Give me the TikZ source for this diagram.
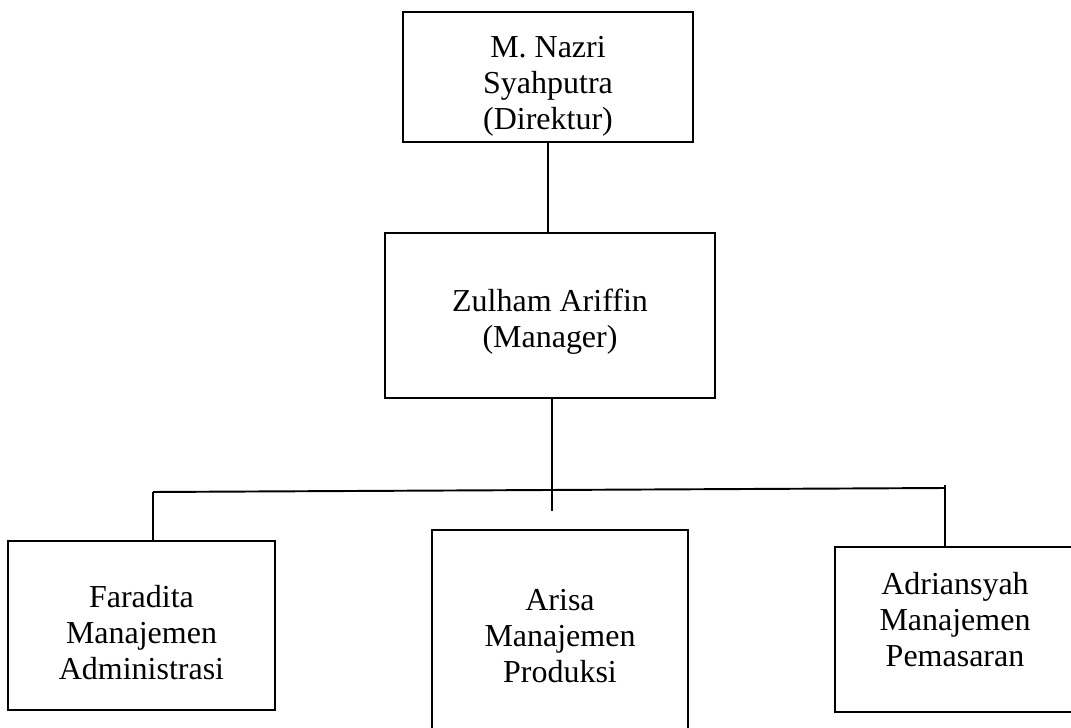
\documentclass[tikz,border=0pt]{standalone}
\usepackage{fontspec}
\setmainfont{Liberation Serif}
\usepackage{tikz}

\newcommand{\isi}[2][0pt]{\raisebox{\dimexpr-6.2pt-#1\relax}[0pt][0pt]{\begin{tabular}{@{}c@{}}#2\end{tabular}}}

\tikzset{
	jabatan/.style={draw, line width=1.1pt, inner sep=0pt, outer sep=0pt,
		font=\fontsize{18.2}{20.5}\selectfont}
}

\begin{document}
\begin{tikzpicture}[line width=1.1pt]
	
	\clip (0,0) rectangle (21.42,-14.56);
	
	\node[jabatan, minimum width=5.8cm, minimum height=2.6cm] (direktur) at (10.96,-1.54) {\isi[3.4pt]{M. Nazri\\Syahputra\\(Direktur)}};
	\node[jabatan, minimum width=6.6cm, minimum height=3.3cm] (manager) at (11.0,-6.31) {\isi[2pt]{Zulham Ariffin\\(Manager)}};
	
	\node[jabatan, minimum width=5.34cm, minimum height=3.38cm] (admin) at (2.83,-12.51) {\isi[4pt]{Faradita\\Manajemen\\Administrasi}};
	\node[jabatan, minimum width=5.12cm, minimum height=4.24cm] (produksi) at (11.2,-12.72) {\isi{Arisa\\Manajemen\\Produksi}};
	\node[jabatan, minimum width=4.8cm, minimum height=3.3cm] (pemasaran) at (19.1,-12.59) {\isi[-5.4pt]{Adriansyah\\Manajemen\\Pemasaran}};
	
	\coordinate (kiri) at (3.06,-9.84);
	\coordinate (kanan) at (18.9,-9.76);
	\coordinate (atas) at (18.9,-9.7);
	\coordinate (bawah) at (11.04,-10.22);
	
	\draw (direktur.south) -- (direktur.south |- manager.north);
	\draw (manager.south -| bawah) -- (bawah);
	\draw (kiri) -- (kanan);
	\draw (kiri) -- (kiri |- admin.north);
	\draw (atas) -- (atas |- pemasaran.north);
\end{tikzpicture}
\end{document}
